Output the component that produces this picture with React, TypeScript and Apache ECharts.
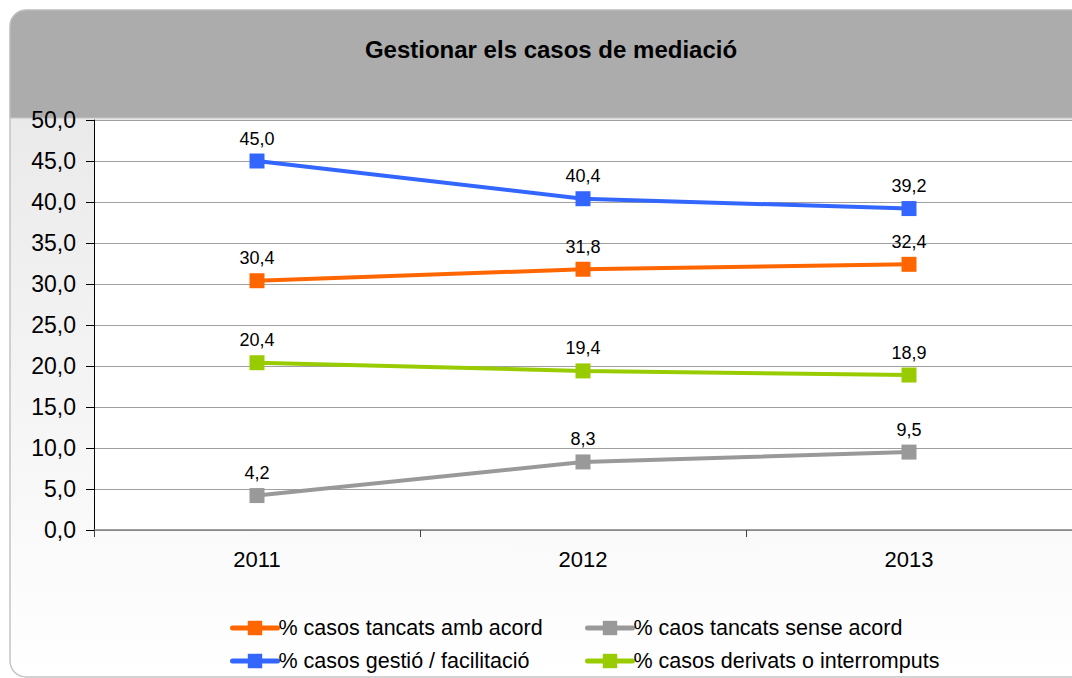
import React, { useEffect, useRef } from "react";
import * as echarts from "echarts";

const title = "Gestionar els casos de mediació";
const years = ["2011", "2012", "2013"];
const seriesNames = [
  "% casos tancats amb acord",
  "% caos tancats sense acord",
  "% casos gestió / facilitació",
  "% casos derivats o interromputs",
];
const acord = [30.4, 31.8, 32.4];
const senseAcord = [4.2, 8.3, 9.5];
const gestio = [45.0, 40.4, 39.2];
const derivats = [20.4, 19.4, 18.9];
const colors = ["#ff6600", "#999999", "#3366ff", "#99cc00"];

const FONT = "Liberation Sans, Arial, sans-serif";
const fmt = (v: number) => v.toFixed(1).replace(".", ",");

export default function App() {
  const ref = useRef<HTMLDivElement>(null);
  useEffect(() => {
    document.body.style.margin = "0";
    const chart = echarts.init(ref.current!, null, { renderer: "svg" });
    const values = [acord, senseAcord, gestio, derivats];
    const legendText = {
      fontFamily: FONT,
      fontSize: 21.5,
      lineHeight: 22,
      color: "#000",
      padding: [0, 0, 0, -4],
    };
    const legendCommon = {
      orient: "vertical",
      top: 617,
      padding: 0,
      itemWidth: 45,
      itemHeight: 18,
      itemGap: 11,
      lineStyle: { width: 5, cap: "round" },
      textStyle: legendText,
    };
    chart.setOption({
      animation: false,
      textStyle: { fontFamily: FONT },
      title: {
        text: title,
        left: 546,
        top: 32,
        textAlign: "center",
        textStyle: { fontFamily: FONT, fontSize: 24, fontWeight: "bold", color: "#000" },
      },
      graphic: [
        {
          type: "rect",
          z: -10,
          silent: true,
          shape: { x: 10, y: 10, width: 1100, height: 667, r: 16 },
          style: {
            fill: new echarts.graphic.LinearGradient(0, 0, 0, 1, [
              { offset: 0, color: "#e6e6e6" },
              { offset: 1, color: "#ffffff" },
            ]),
            stroke: "#c4c4c4",
            lineWidth: 1.5,
          },
        },
        {
          type: "rect",
          z: -9,
          silent: true,
          shape: { x: 10, y: 10, width: 1100, height: 108, r: [16, 0, 0, 0] },
          style: { fill: "#acacac", stroke: "#c4c4c4", lineWidth: 1 },
        },
      ],
      grid: {
        left: 94,
        top: 120,
        width: 979,
        height: 410,
        show: true,
        backgroundColor: "#ffffff",
        borderWidth: 0,
      },
      xAxis: {
        type: "category",
        data: years,
        boundaryGap: true,
        axisLine: { lineStyle: { color: "#808080", width: 1.5 } },
        axisTick: { show: true, length: 7, lineStyle: { color: "#404040" } },
        axisLabel: { fontFamily: FONT, fontSize: 22, color: "#000", margin: 18 },
      },
      yAxis: {
        type: "value",
        min: 0,
        max: 50,
        interval: 5,
        axisLine: { show: true, lineStyle: { color: "#000", width: 1 } },
        axisTick: { show: true, length: 8, lineStyle: { color: "#000" } },
        splitLine: { lineStyle: { color: "#a0a0a0", width: 1 } },
        axisLabel: {
          fontFamily: FONT,
          fontSize: 23,
          color: "#000",
          margin: 18,
          formatter: (v: number) => fmt(v),
        },
      },
      legend: [
        { ...legendCommon, data: [seriesNames[0], seriesNames[2]], left: 230 },
        { ...legendCommon, data: [seriesNames[1], seriesNames[3]], left: 585 },
      ],
      series: seriesNames.map((name, i) => ({
        name,
        type: "line",
        data: values[i],
        color: colors[i],
        symbol: "rect",
        symbolSize: 15,
        lineStyle: { width: 4, color: colors[i] },
        itemStyle: { color: colors[i] },
        label: {
          show: true,
          position: "top",
          distance: 6,
          fontFamily: FONT,
          fontSize: 18,
          color: "#000",
          formatter: (p: any) => fmt(p.value),
        },
      })),
    });
    return () => chart.dispose();
  }, []);
  return <div ref={ref} style={{ width: 1072, height: 678 }} />;
}
